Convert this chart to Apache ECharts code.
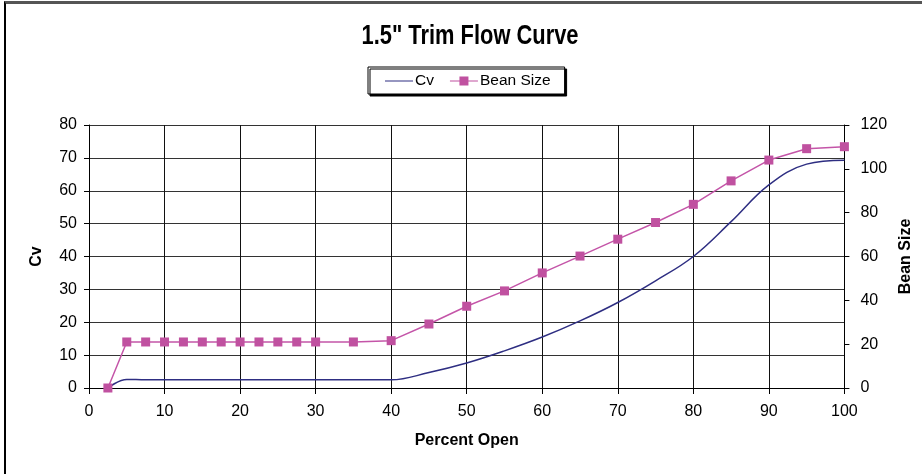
<!DOCTYPE html>
<html>
<head>
<meta charset="utf-8">
<script src="https://cdn.jsdelivr.net/npm/echarts@6/dist/echarts.min.js"></script>
<style>
html,body{margin:0;padding:0;background:#fff;}
#frame{position:absolute;left:4px;top:1px;width:918px;height:473px;border-left:2px solid #000;border-top:3px solid #555;box-sizing:border-box;}
#chart{position:absolute;left:0;top:0;width:922px;height:474px;}
</style>
</head>
<body>
<div id="frame"></div>
<div id="chart"></div>
<script>
const percentOpen = [2.5,5,7.5,10,12.5,15,17.5,20,22.5,25,27.5,30,35,40,45,50,55,60,65,70,75,80,85,90,95,100];
const cvValues = [0,2.6,2.5,2.5,2.5,2.5,2.5,2.5,2.5,2.5,2.5,2.5,2.5,2.5,4.7,7.6,11.3,15.5,20.4,26,32.6,40,50.6,61.8,68.1,69.3];
const beanSizeValues = [0,21,21,21,21,21,21,21,21,21,21,21,21,21.6,29.2,37.3,44.3,52.5,60.2,67.9,75.5,83.8,94.5,104,109.2,110.1];
const titleText = '1.5" Trim Flow Curve';
const seriesNames = ['Cv','Bean Size'];

const cvColor = '#2E2E82';
const beanColor = '#C051A0';
const chart = echarts.init(document.getElementById('chart'), null, {renderer:'canvas'});
const font = 'Liberation Sans, Arial, sans-serif';
const lineIcon = 'path://M0,4.4 L28,4.4 L28,5.6 L0,5.6 Z M0,0 L0.01,0 L0,0.01 Z M28,10 L27.99,10 L28,9.99 Z';
const lineSquareIcon = 'path://M0,4.4 L9.5,4.4 L9.5,0.5 L18.5,0.5 L18.5,4.4 L28,4.4 L28,5.6 L18.5,5.6 L18.5,9.5 L9.5,9.5 L9.5,5.6 L0,5.6 Z M0,0 L0.01,0 L0,0.01 Z M28,10 L27.99,10 L28,9.99 Z';
chart.setOption({
  animation:false,
  backgroundColor:'transparent',
  graphic:[{
    type:'text',x:470,y:37,scaleX:0.81,scaleY:1,
    style:{text:titleText,x:0,y:0,align:'center',verticalAlign:'middle',
      font:'bold 27px "Liberation Sans", Arial, sans-serif',fill:'#000'}
  }],
  legend:{
    data:[{name:seriesNames[0],icon:lineIcon,itemStyle:{color:cvColor}},
          {name:seriesNames[1],icon:lineSquareIcon,itemStyle:{color:beanColor}}],
    left:368,top:67,
    padding:[6,14,5,17],
    itemGap:16,itemWidth:28,itemHeight:10,
    borderColor:'#000',borderWidth:1,backgroundColor:'#fff',
    shadowColor:'#000',shadowOffsetX:2,shadowOffsetY:2,shadowBlur:0,
    textStyle:{fontFamily:font,fontSize:15.5,color:'#000',padding:[0,0,0,-3]}
  },
  grid:{left:89,right:76,top:125,bottom:86,containLabel:false},
  xAxis:{
    type:'value',min:0,max:100,interval:10,
    name:'Percent Open',nameLocation:'middle',nameGap:45,
    nameTextStyle:{fontFamily:font,fontSize:16,fontWeight:'bold',color:'#000'},
    axisLine:{show:true,onZero:false,lineStyle:{color:'#000',width:1}},
    axisTick:{show:true,length:6,lineStyle:{color:'#000'}},
    axisLabel:{fontFamily:font,fontSize:16,color:'#000',margin:16},
    splitLine:{show:true,lineStyle:{color:'#111',width:1}}
  },
  yAxis:[{
    type:'value',min:0,max:80,interval:10,position:'left',
    name:'Cv',nameLocation:'middle',nameGap:44,nameRotate:90,
    nameTextStyle:{fontFamily:font,fontSize:16,fontWeight:'bold',color:'#000'},
    axisLine:{show:true,lineStyle:{color:'#000',width:1}},
    axisTick:{show:true,length:5,lineStyle:{color:'#000'}},
    axisLabel:{fontFamily:font,fontSize:16,color:'#000',margin:12},
    splitLine:{show:true,lineStyle:{color:'#333',width:1}}
  },{
    type:'value',min:0,max:120,interval:20,position:'right',
    name:'Bean Size',nameLocation:'middle',nameGap:50,nameRotate:90,
    nameTextStyle:{fontFamily:font,fontSize:16,fontWeight:'bold',color:'#000'},
    axisLine:{show:true,lineStyle:{color:'#000',width:1}},
    axisTick:{show:true,length:5,lineStyle:{color:'#000'}},
    axisLabel:{fontFamily:font,fontSize:16,color:'#000',margin:16},
    splitLine:{show:false}
  }],
  series:[{
    name:seriesNames[0],type:'line',yAxisIndex:0,smooth:0.4,
    data:percentOpen.map((x,i)=>[x,cvValues[i]]),
    showSymbol:false,symbol:'none',
    lineStyle:{color:cvColor,width:1.5},itemStyle:{color:cvColor}
  },{
    name:seriesNames[1],type:'line',yAxisIndex:1,
    data:percentOpen.map((x,i)=>[x,beanSizeValues[i]]),
    symbol:'rect',symbolSize:9,
    lineStyle:{color:'#C455A8',width:1.5},itemStyle:{color:beanColor}
  }]
});
</script>
</body>
</html>
